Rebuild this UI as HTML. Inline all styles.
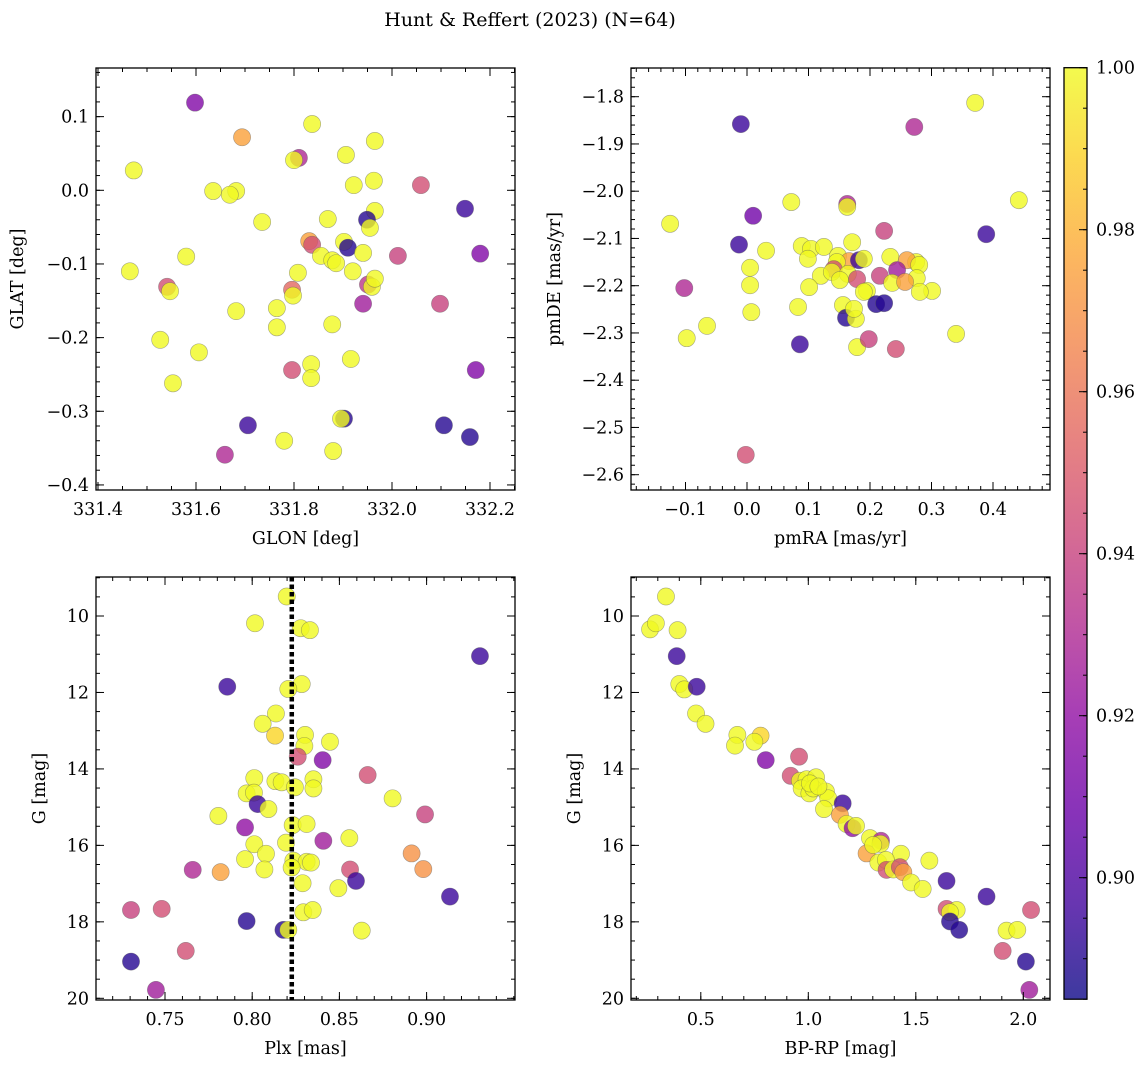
<!DOCTYPE html>
<html><head><meta charset="utf-8"><style>
html,body{margin:0;padding:0;background:#fff;}
svg{display:block;font-family:"DejaVu Serif","Liberation Serif",serif;}
</style></head><body>
<svg id="fig" width="1148" height="1067" viewBox="0 0 1148 1067">
<defs>
<linearGradient id="plasmaGrad" x1="0" y1="1" x2="0" y2="0"></linearGradient>
</defs>
<text x="530" y="26" font-size="19" text-anchor="middle">Hunt &amp; Reffert (2023) (N=64)</text>
</svg>
<script>
// ---- Panel 1 data: GLON / GLAT
const glon = [331.598,331.473,331.694,331.837,331.810,331.800,331.906,331.965,332.059,331.922,331.963,331.635,331.682,331.669,332.149,331.965,331.949,331.955,331.735,331.869,331.902,331.910,331.831,331.837,331.808,331.855,331.878,331.886,331.941,332.012,332.180,331.465,331.580,331.541,331.547,331.796,331.798,331.920,331.951,331.959,331.965,332.098,331.941,331.765,331.682,331.765,331.878,331.527,331.606,331.553,331.835,331.835,331.796,331.916,332.171,331.706,331.780,331.902,331.896,332.106,332.159,331.880,331.659];
const glat = [0.119,0.027,0.072,0.090,0.044,0.041,0.048,0.067,0.007,0.007,0.013,-0.001,-0.001,-0.006,-0.025,-0.028,-0.040,-0.051,-0.043,-0.039,-0.070,-0.078,-0.069,-0.074,-0.112,-0.089,-0.095,-0.099,-0.085,-0.089,-0.086,-0.110,-0.090,-0.131,-0.137,-0.135,-0.143,-0.110,-0.128,-0.131,-0.120,-0.154,-0.154,-0.160,-0.164,-0.186,-0.182,-0.203,-0.220,-0.262,-0.236,-0.255,-0.244,-0.229,-0.244,-0.319,-0.340,-0.310,-0.310,-0.319,-0.335,-0.354,-0.359];
const prob1 = [0.915,1,0.975,1,0.93,1,1,1,0.945,1,1,1,1,1,0.895,1,0.89,1,1,1,1,0.89,0.975,0.945,1,1,1,1,1,0.94,0.915,1,1,0.945,1,0.955,1,1,0.935,1,1,0.94,0.925,1,1,1,1,1,1,1,1,1,0.945,1,0.915,0.895,1,0.89,1,0.89,0.89,1,0.93];
// ---- Panel 2 data: pmRA / pmDE
const pmra = [0.371,-0.010,0.272,0.442,0.072,0.010,-0.125,0.163,0.163,-0.013,0.031,0.223,0.389,0.089,0.104,0.125,0.171,0.148,0.099,0.233,0.275,0.260,0.280,0.166,0.182,0.146,0.190,0.005,0.244,0.141,0.120,0.138,0.164,0.216,0.179,0.151,0.276,0.236,0.257,0.301,0.281,-0.102,0.005,0.101,0.195,0.190,0.210,0.223,0.156,0.007,0.083,0.161,0.177,0.174,-0.098,-0.065,0.179,0.086,0.198,0.242,0.340,-0.002];
const pmde = [-1.813,-1.858,-1.864,-2.019,-2.023,-2.052,-2.069,-2.027,-2.033,-2.113,-2.126,-2.084,-2.091,-2.116,-2.122,-2.118,-2.108,-2.137,-2.143,-2.139,-2.150,-2.146,-2.156,-2.148,-2.146,-2.150,-2.143,-2.162,-2.167,-2.165,-2.179,-2.171,-2.175,-2.179,-2.186,-2.188,-2.184,-2.194,-2.192,-2.211,-2.213,-2.205,-2.199,-2.203,-2.211,-2.213,-2.239,-2.237,-2.241,-2.256,-2.245,-2.268,-2.270,-2.249,-2.311,-2.285,-2.330,-2.324,-2.313,-2.334,-2.302,-2.558];
const prob2 = [1,0.895,0.93,1,1,0.91,1,0.93,1,0.895,1,0.94,0.895,1,1,1,1,1,1,1,1,0.975,1,0.975,0.895,1,1,1,0.925,0.945,1,1,1,0.94,0.945,1,1,1,0.975,1,1,0.93,1,1,1,1,0.89,0.89,1,1,1,0.89,1,1,1,1,1,0.895,0.94,0.945,1,0.945];
// ---- Panel 3 data: Plx / G
const plx = [0.8198,0.8016,0.8278,0.8331,0.9306,0.7857,0.8284,0.8207,0.8136,0.8060,0.8131,0.8303,0.8299,0.8446,0.8261,0.8404,0.8662,0.8012,0.8133,0.8169,0.8351,0.8351,0.8245,0.7968,0.8010,0.8805,0.8031,0.8093,0.7806,0.8991,0.7959,0.8232,0.8312,0.8557,0.8408,0.8012,0.8194,0.8079,0.7959,0.8914,0.8236,0.8312,0.8337,0.8226,0.8070,0.8561,0.7659,0.7819,0.8981,0.8595,0.8289,0.8494,0.9134,0.7305,0.7481,0.8293,0.8347,0.7968,0.8179,0.8207,0.8628,0.7619,0.7305,0.7448];
const gmag3 = [9.49,10.19,10.32,10.37,11.05,11.85,11.78,11.91,12.55,12.82,13.13,13.11,13.40,13.29,13.68,13.77,14.16,14.24,14.32,14.35,14.27,14.51,14.48,14.64,14.62,14.77,14.92,15.05,15.23,15.19,15.53,15.47,15.44,15.81,15.88,15.97,15.93,16.22,16.36,16.21,16.40,16.43,16.45,16.58,16.63,16.63,16.64,16.70,16.62,16.93,16.99,17.12,17.34,17.69,17.66,17.75,17.69,17.98,18.21,18.21,18.23,18.76,19.04,19.78];
const prob3 = [1,1,1,1,0.895,0.895,1,1,1,1,0.99,1,1,1,0.945,0.915,0.945,1,1,1,1,1,1,1,1,1,0.895,1,1,0.94,0.92,1,1,1,0.925,1,1,1,1,0.97,1,1,1,1,1,0.945,0.93,0.975,0.97,0.895,1,1,0.895,0.94,0.945,1,1,0.89,0.89,1,1,0.945,0.89,0.925];
const plxRef = [0.8227];
// ---- Panel 4 data: BP-RP / G
const bprp = [0.338,0.264,0.291,0.392,0.388,0.400,0.423,0.481,0.478,0.522,0.670,0.659,0.778,0.749,0.802,0.957,0.918,0.961,0.992,1.036,0.969,1.005,1.023,1.082,1.093,1.073,1.160,1.147,1.178,1.206,1.222,1.287,1.338,1.336,1.271,1.431,1.563,1.326,1.361,1.364,1.395,1.426,1.442,1.478,1.532,1.643,1.829,1.643,1.690,1.659,1.659,1.702,1.922,1.972,2.036,1.904,2.012,2.028,1.008,1.047,1.302];
const gmag4 = [9.49,10.35,10.19,10.37,11.05,11.78,11.92,11.85,12.55,12.82,13.11,13.39,13.13,13.29,13.77,13.68,14.18,14.31,14.27,14.22,14.51,14.64,14.51,14.59,14.77,15.05,14.90,15.20,15.44,15.55,15.49,15.81,15.88,15.96,16.21,16.22,16.40,16.45,16.38,16.64,16.63,16.57,16.70,16.97,17.14,16.93,17.34,17.66,17.69,17.75,17.99,18.21,18.23,18.21,17.69,18.76,19.04,19.78,14.38,14.46,15.99];
const prob4 = [1,1,1,1,0.895,1,1,0.895,1,1,1,1,0.99,1,0.915,0.945,0.945,1,1,1,1,1,1,1,1,1,0.895,0.975,1,0.92,1,1,0.93,1,0.975,1,1,1,1,0.945,1,0.945,0.975,1,1,0.895,0.895,0.945,1,1,0.89,0.89,1,1,0.945,0.945,0.89,0.925,1,1,1];
// ---- Colorbar
const cbTicks = [0.90,0.92,0.94,0.96,0.98,1.00];
const vmin = 0.885, vmax = 1.0;

const NS='http://www.w3.org/2000/svg';
const svg=document.getElementById('fig');
function mk(tag,attrs,parent){const e=document.createElementNS(NS,tag);for(const k in attrs)e.setAttribute(k,attrs[k]);(parent||svg).appendChild(e);return e;}
const stops=[[0,'#0d0887'],[0.1,'#41049d'],[0.2,'#6a00a8'],[0.3,'#8f0da4'],[0.4,'#b12a90'],[0.5,'#cc4778'],[0.6,'#e16462'],[0.7,'#f2844b'],[0.8,'#fca636'],[0.9,'#fcce25'],[1,'#f0f921']];
function hex(h){return [parseInt(h.slice(1,3),16),parseInt(h.slice(3,5),16),parseInt(h.slice(5,7),16)];}
function plasma(t){t=Math.max(0,Math.min(1,t));for(let i=1;i<stops.length;i++){if(t<=stops[i][0]){const a=stops[i-1],b=stops[i];const f=(t-a[0])/(b[0]-a[0]);const ca=hex(a[1]),cb=hex(b[1]);return 'rgb('+ca.map((v,j)=>Math.round(v+(cb[j]-v)*f)).join(',')+')';}}return stops[stops.length-1][1];}
function color(p){return plasma((p-vmin)/(vmax-vmin));}

const grad=document.getElementById('plasmaGrad');
stops.forEach(s=>{mk('stop',{offset:s[0],'stop-color':s[1],'stop-opacity':0.8},grad);});

function fmt(v,d){const s=Math.abs(v).toFixed(d);return (v<-1e-9?'\u2212':'')+s;}
const FS=17.5;

function panel(o){
  const g=mk('g',{});
  
  
  const X=o.X,Y=o.Y;
  const pts=mk('g',{},g);
  
  
  for(let i=0;i<Math.min(o.xs.length,o.ys.length);i++){
    const c=mk('circle',{cx:X(o.xs[i]),cy:Y(o.ys[i]),r:8.6,fill:color(o.ps[i]),'fill-opacity':0.8,stroke:'#555','stroke-opacity':0.5,'stroke-width':0.6},pts);
    
    
  }
  if(o.extra)o.extra(g);
  const fr=mk('rect',{x:o.l,y:o.t,width:o.r-o.l,height:o.b-o.t,fill:'none',stroke:'#000','stroke-width':1.3},g);
  
  
  const tk=mk('g',{stroke:'#000','stroke-width':1},g);
  
  
  function xt(v,len){const x=X(v);if(x<o.l-0.5||x>o.r+0.5)return;mk('line',{x1:x,x2:x,y1:o.b,y2:o.b-len},tk);mk('line',{x1:x,x2:x,y1:o.t,y2:o.t+len},tk);}
  function yt(v,len){const y=Y(v);if(y<o.t-0.5||y>o.b+0.5)return;mk('line',{x1:o.l,x2:o.l+len,y1:y,y2:y},tk);mk('line',{x1:o.r,x2:o.r-len,y1:y,y2:y},tk);}
  for(let v=o.xmin0;v<=o.xmax0+1e-9;v+=o.xminor)xt(v,4);
  for(let v=o.ymin0;v<=o.ymax0+1e-9;v+=o.yminor)yt(v,4);
  o.xticks.forEach(v=>{xt(v,8);const t=mk('text',{x:X(v),y:o.b+25,'font-size':FS,'text-anchor':'middle'},g);t.textContent=fmt(v,o.xd);});
  o.yticks.forEach(v=>{yt(v,8);const t=mk('text',{x:o.l-7,y:Y(v)+6,'font-size':FS,'text-anchor':'end'},g);t.textContent=fmt(v,o.yd);});
  const xl=mk('text',{x:(o.l+o.r)/2,y:o.b+54,'font-size':FS,'text-anchor':'middle'},g);xl.textContent=o.xlabel;
  
  const cy=(o.t+o.b)/2,cx=o.ylx;
  const yl=mk('text',{x:cx,y:cy,'font-size':FS,'text-anchor':'middle',transform:'rotate(-90 '+cx+' '+cy+')'},g);yl.textContent=o.ylabel;
  
}

panel({name:'glon-glat-panel',l:96,r:515,t:68,b:490,X:v=>98+(v-331.4)*490,Y:v=>190.3-v*736.6,xs:glon,ys:glat,ps:prob1,
  xticks:[331.4,331.6,331.8,332.0,332.2],xd:1,yticks:[0.1,0.0,-0.1,-0.2,-0.3,-0.4],yd:1,
  xmin0:331.35,xmax0:332.3,xminor:0.05,ymin0:-0.42,ymax0:0.18,yminor:0.02,xlabel:'GLON [deg]',ylabel:'GLAT [deg]',ylx:23});
panel({name:'pm-panel',l:631,r:1050,t:68,b:490,X:v=>747+v*615,Y:v=>96.7+(-1.8-v)*472.5,xs:pmra,ys:pmde,ps:prob2,
  xticks:[-0.1,0.0,0.1,0.2,0.3,0.4],xd:1,yticks:[-1.8,-1.9,-2.0,-2.1,-2.2,-2.3,-2.4,-2.5,-2.6],yd:1,
  xmin0:-0.2,xmax0:0.5,xminor:0.02,ymin0:-2.64,ymax0:-1.74,yminor:0.02,xlabel:'pmRA [mas/yr]',ylabel:'pmDE [mas/yr]',ylx:560});
panel({name:'plx-g-panel',l:96,r:515,t:577,b:1000,X:v=>165+(v-0.75)*1744,Y:v=>616+(v-10)*38.23,xs:plx,ys:gmag3,ps:prob3,
  xticks:[0.75,0.80,0.85,0.90],xd:2,yticks:[10,12,14,16,18,20],yd:0,
  xmin0:0.71,xmax0:0.95,xminor:0.01,ymin0:9,ymax0:20.01,yminor:0.5,xlabel:'Plx [mas]',ylabel:'G [mag]',ylx:45,
  extra:g=>{plxRef.forEach(v=>{const x=165+(v-0.75)*1744;const l=mk('line',{x1:x,x2:x,y1:577,y2:1000,stroke:'#000','stroke-width':4.5,'stroke-dasharray':'4.5 3'},g);});}});
panel({name:'cmd-panel',l:631,r:1050,t:577,b:1000,X:v=>808.3+(v-1)*215,Y:v=>616+(v-10)*38.23,xs:bprp,ys:gmag4,ps:prob4,
  xticks:[0.5,1.0,1.5,2.0],xd:1,yticks:[10,12,14,16,18,20],yd:0,
  xmin0:0.2,xmax0:2.15,xminor:0.1,ymin0:9,ymax0:20.01,yminor:0.5,xlabel:'BP-RP [mag]',ylabel:'G [mag]',ylx:580});

const cb=mk('g',{});


const CY=v=>67.7+(1.0-v)*8100;
const bar=mk('rect',{x:1064,y:CY(vmax),width:23,height:CY(vmin)-CY(vmax),fill:'url(#plasmaGrad)',stroke:'#000','stroke-width':1.3},cb);


for(let v=0.885;v<=1.0001;v+=0.005){const y=CY(v);mk('line',{x1:1087,x2:1083,y1:y,y2:y,stroke:'#000','stroke-width':1},cb);}
cbTicks.forEach(v=>{const y=CY(v);mk('line',{x1:1087,x2:1079,y1:y,y2:y,stroke:'#000','stroke-width':1},cb);
  const t=mk('text',{x:1096,y:y+6,'font-size':FS},cb);t.textContent=v.toFixed(2);
  });
</script>
</body></html>
